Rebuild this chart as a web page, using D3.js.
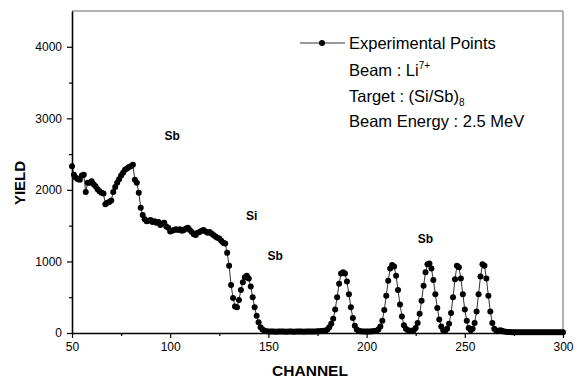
<!DOCTYPE html>
<html>
<head>
<meta charset="utf-8">
<script src="https://cdn.jsdelivr.net/npm/d3@7"></script>
<style>
  body { margin: 0; background: #fff; }
  svg { font-family: "Liberation Sans", Arial, sans-serif; }
</style>
</head>
<body>
<svg id="chart" width="580" height="378"></svg>
<script>
// channel numbers start at 50, one yield value per channel
var startChannel = 50;
var yieldValues = [
  2330, 2210, 2170, 2150, 2140, 2200, 2210, 1970, 2100, 2100,   // 50-59
  2120, 2080, 2050, 2010, 1980, 1960, 1950, 1800, 1820, 1830,   // 60-69
  1850, 1970, 2040, 2100, 2150, 2200, 2240, 2280, 2300, 2320,   // 70-79
  2330, 2350, 2140, 2100, 1960, 1750, 1650, 1590, 1560, 1570,   // 80-89
  1580, 1550, 1560, 1540, 1550, 1510, 1530, 1540, 1490, 1470,   // 90-99
  1420, 1430, 1440, 1450, 1440, 1450, 1430, 1440, 1460, 1470,   // 100-109
  1440, 1410, 1380, 1370, 1400, 1410, 1430, 1440, 1420, 1400,   // 110-119
  1410, 1390, 1370, 1350, 1330, 1320, 1290, 1260, 1250, 1120,   // 120-129
  940, 670, 490, 370, 360, 460, 600, 710, 780, 800,             // 130-139
  760, 650, 500, 360, 240, 150, 80, 50, 30, 25,                 // 140-149
  22, 20, 22, 20, 18, 20, 22, 20, 20, 18,                       // 150-159
  20, 22, 20, 18, 20, 20, 22, 20, 18, 20,                       // 160-169
  20, 22, 20, 20, 22, 25, 25, 28, 30, 30,                       // 170-179
  50, 80, 130, 200, 330, 500, 690, 830, 850, 830,               // 180-189
  720, 540, 360, 210, 100, 50, 30, 25, 22, 20,                  // 190-199
  20, 20, 22, 25, 28, 30, 50, 90, 170, 320,                     // 200-209
  520, 730, 900, 950, 930, 800, 600, 400, 230, 110,             // 210-219
  60, 40, 30, 30, 40, 70, 140, 270, 450, 660,                   // 220-229
  850, 960, 970, 900, 740, 540, 350, 190, 90, 40,               // 230-239
  30, 60, 130, 280, 500, 750, 940, 920, 760, 540,               // 240-249
  330, 170, 70, 40, 60, 140, 300, 540, 790, 960,                // 250-259
  940, 760, 520, 300, 140, 60, 30, 30, 40, 30,                  // 260-269
  20, 18, 15, 15, 12, 12, 12, 10, 10, 10,                       // 270-279
  10, 10, 10, 10, 10, 10, 10, 10, 10, 10,                       // 280-289
  10, 10, 10, 10, 10, 10, 10, 10, 10, 10, 10                    // 290-300
];
var xTicks = [50, 100, 150, 200, 250, 300];
var xMinorTicks = [75, 125, 175, 225, 275];
var yTicks = [0, 1000, 2000, 3000, 4000];
var yMinorTicks = [500, 1500, 2500, 3500];
var peakLabels = [
  { text: "Sb", channel: 101, yield: 2700 },
  { text: "Si", channel: 141.5, yield: 1580 },
  { text: "Sb", channel: 153.5, yield: 1020 },
  { text: "Sb", channel: 230, yield: 1260 }
];

var points = yieldValues.map(function(v, i) { return [startChannel + i, v]; });

var margin = { top: 11, right: 17, bottom: 45, left: 72 };
var width = 580 - margin.left - margin.right;
var height = 378 - margin.top - margin.bottom;

var svg = d3.select("#chart");
var g = svg.append("g")
  .attr("transform", "translate(" + margin.left + "," + margin.top + ")");

var x = d3.scaleLinear().domain([50, 300]).range([0, width]);
var y = d3.scaleLinear().domain([0, 4500]).range([height, 0]);

// frame on top and right
g.append("line").attr("x1", 0).attr("x2", width).attr("y1", 0).attr("y2", 0)
  .attr("stroke", "#666").attr("stroke-width", 1);
g.append("line").attr("x1", width).attr("x2", width).attr("y1", 0).attr("y2", height)
  .attr("stroke", "#666").attr("stroke-width", 1);

// axes
g.append("g")
  .attr("transform", "translate(0," + height + ")")
  .call(d3.axisBottom(x).tickValues(xTicks).tickSize(5).tickPadding(4).tickSizeOuter(0));
g.append("g")
  .attr("transform", "translate(0," + height + ")")
  .call(d3.axisBottom(x).tickValues(xMinorTicks).tickSize(3).tickFormat("").tickSizeOuter(0))
  .select(".domain").remove();

g.append("g")
  .call(d3.axisLeft(y).tickValues(yTicks).tickFormat(d3.format("d"))
    .tickSize(5).tickPadding(5).tickSizeOuter(0));
g.append("g")
  .call(d3.axisLeft(y).tickValues(yMinorTicks).tickSize(3).tickFormat("").tickSizeOuter(0))
  .select(".domain").remove();

g.selectAll(".domain").attr("stroke-width", 1.6);
g.selectAll(".tick line").attr("stroke-width", 1.2);
g.selectAll(".tick text")
  .style("font-family", "'Liberation Sans', Arial, sans-serif")
  .style("font-size", "12px")
  .attr("fill", "#000");

// data line and markers
g.append("path")
  .datum(points)
  .attr("fill", "none")
  .attr("stroke", "#000")
  .attr("stroke-width", 0.8)
  .attr("d", d3.line()
    .x(function(d) { return x(d[0]); })
    .y(function(d) { return y(d[1]); }));

g.selectAll("circle.pt")
  .data(points)
  .enter().append("circle")
  .attr("class", "pt")
  .attr("cx", function(d) { return x(d[0]); })
  .attr("cy", function(d) { return y(d[1]); })
  .attr("r", 3)
  .attr("fill", "#000");

// peak labels
g.selectAll("text.peak")
  .data(peakLabels)
  .enter().append("text")
  .attr("class", "peak")
  .attr("x", function(d) { return x(d.channel); })
  .attr("y", function(d) { return y(d.yield); })
  .attr("text-anchor", "middle")
  .style("font-size", "12px")
  .style("font-weight", "bold")
  .text(function(d) { return d.text; });

// axis titles
svg.append("text")
  .attr("x", 310).attr("y", 376)
  .attr("text-anchor", "middle")
  .style("font-size", "15.5px")
  .style("font-weight", "bold")
  .text("CHANNEL");

svg.append("text")
  .attr("transform", "translate(25,183) rotate(-90)")
  .attr("text-anchor", "middle")
  .style("font-size", "15px")
  .style("font-weight", "bold")
  .text("YIELD");

// legend and annotation
var legend = svg.append("g");
legend.append("line").attr("x1", 300).attr("x2", 345).attr("y1", 43).attr("y2", 43)
  .attr("stroke", "#000").attr("stroke-width", 0.8);
legend.append("circle").attr("cx", 322).attr("cy", 43).attr("r", 3).attr("fill", "#000");
legend.append("text").attr("x", 349).attr("y", 49)
  .style("font-size", "16.5px").text("Experimental Points");

var t1 = legend.append("text").attr("x", 349).attr("y", 76).style("font-size", "16.5px");
t1.append("tspan").text("Beam : Li");
t1.append("tspan").attr("dy", -7).style("font-size", "10px").text("7+");

var t2 = legend.append("text").attr("x", 349).attr("y", 102).style("font-size", "16.5px");
t2.append("tspan").text("Target : (Si/Sb)");
t2.append("tspan").attr("dy", 4).style("font-size", "10px").text("8");

legend.append("text").attr("x", 349).attr("y", 127)
  .style("font-size", "16.5px").text("Beam Energy : 2.5 MeV");
</script>
</body>
</html>
